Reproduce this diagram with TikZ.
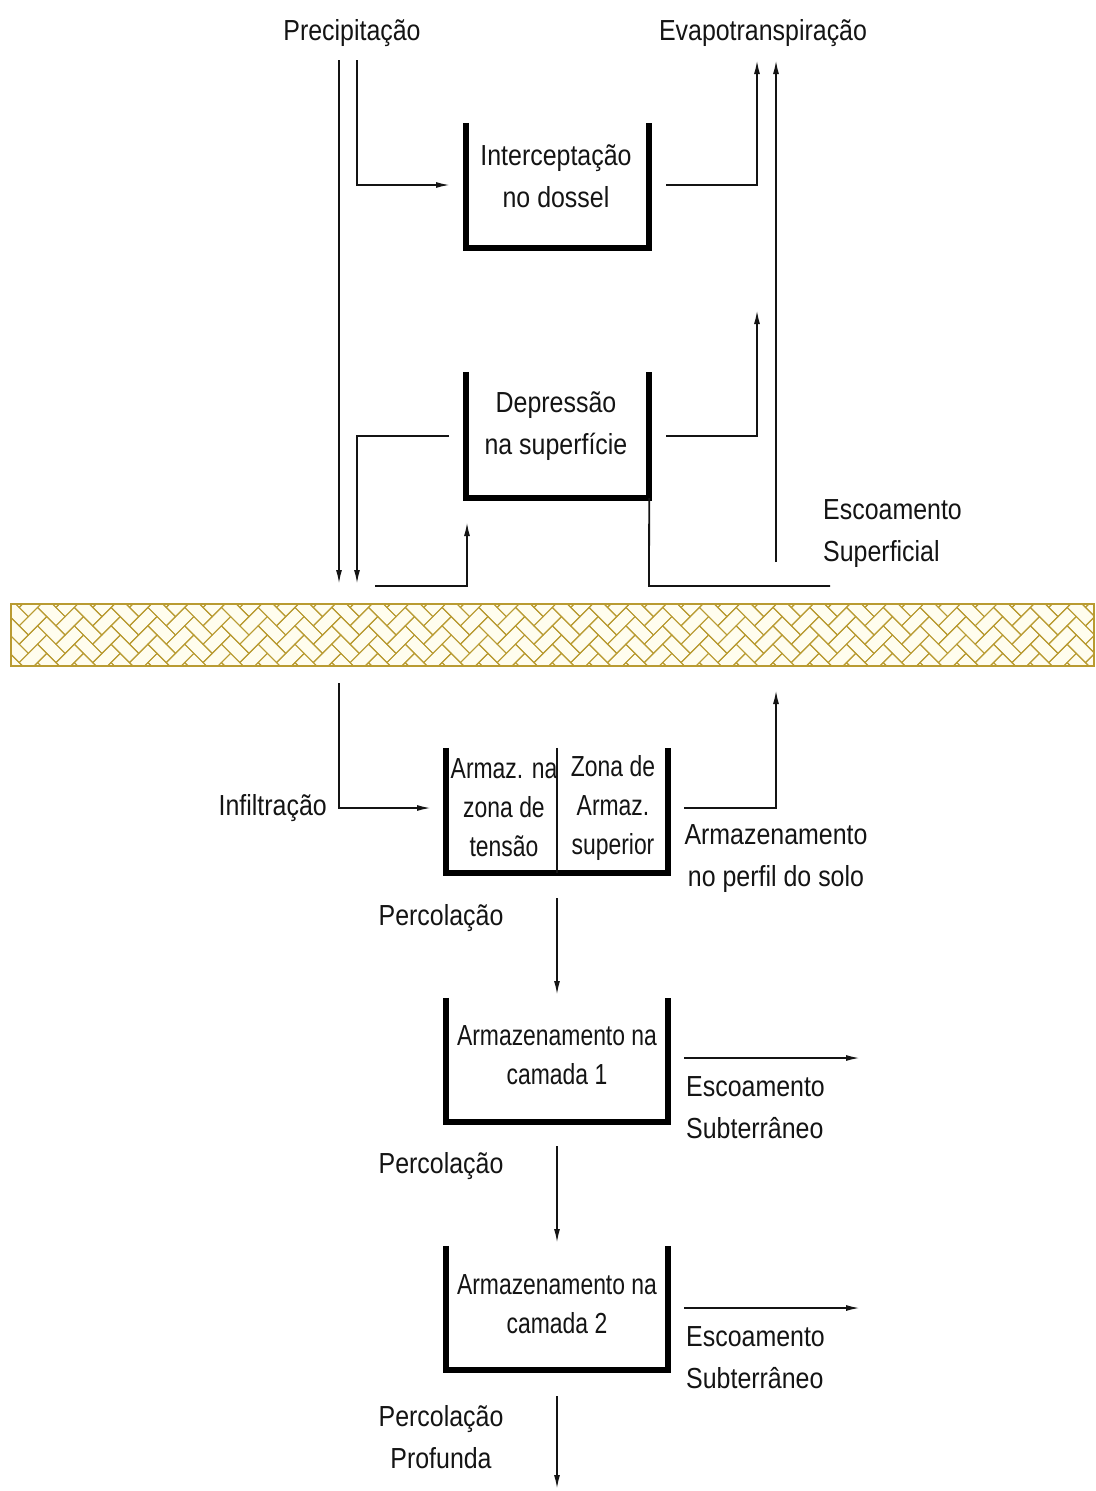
\documentclass[tikz,border=0pt]{standalone}
\usepackage{fontspec}
\setmainfont[FakeStretch=0.86]{Liberation Sans}
\newfontfamily\narrowfont[FakeStretch=0.79]{Liberation Sans}
\usetikzlibrary{arrows.meta}
\definecolor{soil}{RGB}{185,155,50}
\definecolor{soilfill}{RGB}{255,253,238}
\definecolor{ink}{RGB}{20,20,20}
\begin{document}
\begin{tikzpicture}[x=1pt,y=-1pt,
  lbl/.style={font=\fontsize{29}{42}\selectfont, align=center, inner sep=0pt, text=ink},
  nlbl/.style={lbl, font=\narrowfont\fontsize{29}{39}\selectfont},
  conn/.style={line width=1.8pt, draw=ink},
  arr/.style={conn, -{Latex[length=14pt,width=6pt]}},
  cup/.style={line width=6pt, line join=miter, draw=black},
  boxarea/.style={inner sep=0pt, draw=none},
  hatch/.style={draw=soil, line width=1pt}]
\useasboundingbox (0,0) rectangle (1095,1491);
\fill[white] (0,0) rectangle (1095,1491);

% ---------- soil band ----------
\fill[soilfill] (11,604) rectangle (1094,666);
\begin{scope}
\clip (11,604) rectangle (1094,666);
\begin{scope}[shift={(10,635)}, rotate=-45, scale=13]
\foreach \c in {-2,...,31} {
  \foreach \k in {-5,...,5} {
    \draw[hatch] ({\k+2*\c},{\k-2*\c}) -- ++(2,0) -- ++(0,1) -- ++(-2,0) -- cycle;
    \draw[hatch] ({\k+2+2*\c},{\k-1-2*\c}) -- ++(0,2) -- ++(1,0) -- ++(0,-2) -- cycle;
  }
}
\end{scope}
\end{scope}
\draw[soil, line width=2.2pt] (11,604) rectangle (1094,666);

% ---------- boxes ----------
\node[boxarea, minimum width=183pt, minimum height=125pt] (b1) at (557.5,185.5) {};
\node[boxarea, minimum width=183pt, minimum height=126pt] (b2) at (557.5,435) {};
\node[boxarea, minimum width=222pt, minimum height=125pt] (b3) at (557,810.5) {};
\node[boxarea, minimum width=222pt, minimum height=124pt] (b4) at (557,1060) {};
\node[boxarea, minimum width=222pt, minimum height=124pt] (b5) at (557,1308) {};
\foreach \b in {b1,b2,b3,b4,b5}
  \draw[cup] (\b.north west) -- (\b.south west) -- (\b.south east) -- (\b.north east);
\draw[conn] (b3.north) -- (b3.south);

% ---------- texts ----------
\node[lbl] (prec) at (352,33) {Precipitação};
\node[lbl] (evap) at (763,33) {Evapotranspiração};
\node[lbl] (t1) at (556,176) {Interceptação\\no dossel};
\node[lbl] (t2) at (556,426) {Depressão\\na superfície};
\node[lbl, anchor=west, align=left] (esup) at (823,534) {Escoamento\\Superficial};
\node[lbl, anchor=east] (inf) at (327,808) {Infiltração};
\node[nlbl] (t3a) at (504,808) {Armaz. na\\zona de\\tensão};
\node[nlbl] (t3b) at (613,808) {Zona de\\Armaz.\\superior};
\node[lbl] (aps) at (776,859) {Armazenamento\\no perfil do solo};
\node[lbl] (perc1) at (441,918) {Percolação};
\node[nlbl] (t4) at (557,1055) {Armazenamento na\\camada 1};
\node[lbl, anchor=west, align=left] (esub1) at (686,1108) {Escoamento\\Subterrâneo};
\node[lbl] (perc2) at (441,1166) {Percolação};
\node[nlbl] (t5) at (557,1304) {Armazenamento na\\camada 2};
\node[lbl, anchor=west, align=left] (esub2) at (686,1358) {Escoamento\\Subterrâneo};
\node[lbl] (perc3) at (441,1437) {Percolação\\Profunda};

% ---------- connector coordinates ----------
\coordinate (pA) at (339,60);   \coordinate (pAe) at (339,584);
\coordinate (pB) at (357,60);   \coordinate (pBc) at (357,185); \coordinate (pBe) at (450,185);
\coordinate (dL) at (449,436);  \coordinate (dLc) at (357,436); \coordinate (dLe) at (357,584);
\coordinate (gS) at (375,586);  \coordinate (gSc) at (467,586); \coordinate (gSe) at (467,522);
\coordinate (iR) at (666,185);  \coordinate (iRc) at (757,185); \coordinate (iRe) at (757,60);
\coordinate (dR) at (666,436);  \coordinate (dRc) at (757,436); \coordinate (dRe) at (757,310);
\coordinate (eS) at (776,562);  \coordinate (eSe) at (776,60);
\coordinate (rOc) at (649,586); \coordinate (rOe) at (830,586);
\coordinate (fA) at (339,683);  \coordinate (fAc) at (339,808); \coordinate (fAe) at (431,808);
\coordinate (sR) at (684,808);  \coordinate (sRc) at (776,808); \coordinate (sRe) at (776,690);
\coordinate (c1) at (557,898);  \coordinate (c1e) at (557,995);
\coordinate (g1) at (684,1058); \coordinate (g1e) at (860,1058);
\coordinate (c2) at (557,1146); \coordinate (c2e) at (557,1243);
\coordinate (g2) at (684,1308); \coordinate (g2e) at (860,1308);
\coordinate (c3) at (557,1396); \coordinate (c3e) at (557,1489);

% ---------- connectors ----------
\draw[arr] (pA) -- (pAe);
\draw[arr] (pB) -- (pBc) -- (pBe);
\draw[arr] (dL) -- (dLc) -- (dLe);
\draw[arr] (gS) -- (gSc) -- (gSe);
\draw[arr] (iR) -- (iRc) -- (iRe);
\draw[arr] (dR) -- (dRc) -- (dRe);
\draw[arr] (eS) -- (eSe);
\draw[conn] (b2.south east) -- (rOc) -- (rOe);
\draw[arr] (fA) -- (fAc) -- (fAe);
\draw[arr] (sR) -- (sRc) -- (sRe);
\draw[arr] (c1) -- (c1e);
\draw[arr] (g1) -- (g1e);
\draw[arr] (c2) -- (c2e);
\draw[arr] (g2) -- (g2e);
\draw[arr] (c3) -- (c3e);
\end{tikzpicture}
\end{document}
